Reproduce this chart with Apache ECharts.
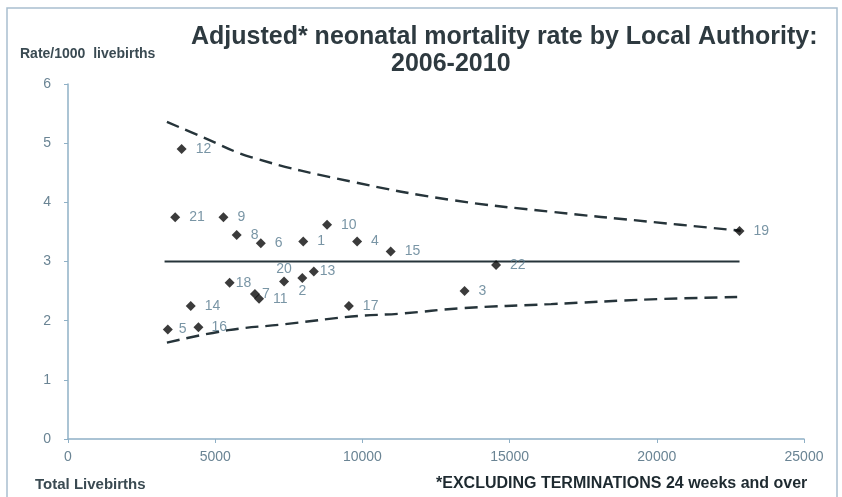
<!DOCTYPE html>
<html>
<head>
<meta charset="utf-8">
<script src="https://cdn.jsdelivr.net/npm/echarts@6/dist/echarts.min.js"></script>
<style>
html,body{margin:0;padding:0;background:#fff;}
#chart{width:842px;height:497px;}
</style>
</head>
<body>
<div id="chart"></div>
<script>
// ---- data ----
const authorityIds = [1,2,3,4,5,6,7,8,9,10,11,12,13,14,15,16,17,18,19,20,21,22];
const totalLivebirths = [7990,7960,13470,9820,3390,6550,6350,5730,5280,8800,6490,3860,8350,4170,10960,4430,9540,5490,22810,7340,3640,14540];
const adjustedRate = [3.34,2.72,2.50,3.34,1.85,3.31,2.45,3.45,3.75,3.62,2.37,4.90,2.83,2.25,3.17,1.89,2.25,2.64,3.515,2.66,3.75,2.94];

const meanX = [3280, 22810];
const meanY = [3, 3];

const upperX = [3360, 4540, 6240, 9630, 13020, 16410, 19800, 22850];
const upperY = [5.36, 5.11, 4.76, 4.35, 4.04, 3.84, 3.67, 3.52];

const lowerX = [3360, 5450, 7370, 9630, 11320, 13360, 16410, 19800, 22730];
const lowerY = [1.63, 1.84, 1.94, 2.07, 2.12, 2.21, 2.28, 2.36, 2.40];

const xTicks = [0, 5000, 10000, 15000, 20000, 25000];
const yTicks = [0, 1, 2, 3, 4, 5, 6];

// label placement (styling only)
const labelPlacement = {
  20: {position: 'top', distance: 0, offset: [-3, 3]},
  2: {position: 'bottom', distance: 1, offset: [0, -2]},
  7: {position: 'right', distance: 2, offset: [-7, -8]},
  18: {position: 'right', distance: 1, offset: [0, 0]},
  13: {position: 'right', distance: 1, offset: [0, 0]},
  5: {position: 'right', distance: 6, offset: [0, 0]},
  16: {position: 'right', distance: 8, offset: [0, 0]}
};

const labelColor = '#587a8e';
const pts = authorityIds.map((id, i) => {
  const p = labelPlacement[id];
  const d = {value: [totalLivebirths[i], adjustedRate[i]], name: String(id)};
  if (p) d.label = {position: p.position, distance: p.distance, offset: p.offset};
  return d;
});

const chart = echarts.init(document.getElementById('chart'), null, {renderer: 'canvas'});
const option = {
  backgroundColor: '#fff',
  animation: false,
  title: [
    {text: 'Adjusted* neonatal mortality rate by Local Authority:', left: 186, top: 20,
     textStyle: {fontFamily: 'Liberation Sans, Arial, sans-serif', fontWeight: 'bold', fontSize: 25, color: '#2e3a40'}},
    {text: '2006-2010', left: 386, top: 47,
     textStyle: {fontFamily: 'Liberation Sans, Arial, sans-serif', fontWeight: 'bold', fontSize: 25, color: '#2e3a40'}}
  ],
  graphic: [
    {type: 'rect', shape: {x: 7, y: 8, width: 830, height: 495}, style: {fill: 'none', stroke: '#a9bfcf', lineWidth: 1.5}, z: -1},
    {type: 'text', left: 20, top: 47, style: {text: 'Rate/1000  livebirths', font: 'bold 14px "Liberation Sans", Arial, sans-serif', fill: '#3a4a52'}},
    {type: 'text', left: 35, top: 477, style: {text: 'Total Livebirths', font: 'bold 15px "Liberation Sans Narrow", "Liberation Sans", Arial, sans-serif', fill: '#3a4a52'}},
    {type: 'text', left: 436, top: 476, style: {text: '*EXCLUDING TERMINATIONS 24 weeks and over', font: 'bold 16px "Liberation Sans Narrow", "Arial Narrow", sans-serif', fill: '#1e2a30'}}
  ],
  grid: {left: 68, right: 38, top: 84, bottom: 58, containLabel: false},
  xAxis: {
    type: 'value', min: xTicks[0], max: xTicks[xTicks.length - 1], interval: 5000,
    axisLine: {show: true, lineStyle: {color: '#8fb0c6', width: 1.5}},
    axisTick: {show: true, length: 4, lineStyle: {color: '#8fb0c6'}},
    axisLabel: {color: '#6a8494', fontSize: 14, margin: 11, formatter: v => String(v),
      fontFamily: 'Liberation Sans Narrow, Liberation Sans, Arial, sans-serif'},
    splitLine: {show: false}
  },
  yAxis: {
    type: 'value', min: yTicks[0], max: yTicks[yTicks.length - 1], interval: 1,
    axisLine: {show: true, lineStyle: {color: '#8fb0c6', width: 1.5}},
    axisTick: {show: true, length: 4, lineStyle: {color: '#8fb0c6'}},
    axisLabel: {color: '#6a8494', fontSize: 14, margin: 17, fontFamily: 'Liberation Sans, Arial, sans-serif'},
    splitLine: {show: false}
  },
  series: [
    {
      type: 'line', data: upperX.map((x, i) => [x, upperY[i]]), smooth: 0.4, showSymbol: false,
      lineStyle: {color: '#26343a', width: 2.4, type: [13, 7]}, z: 2, silent: true
    },
    {
      type: 'line', data: lowerX.map((x, i) => [x, lowerY[i]]), smooth: 0.4, showSymbol: false,
      lineStyle: {color: '#26343a', width: 2.4, type: [13, 7]}, z: 2, silent: true
    },
    {
      type: 'line', data: meanX.map((x, i) => [x, meanY[i]]), showSymbol: false,
      lineStyle: {color: '#26343a', width: 2}, z: 2, silent: true
    },
    {
      type: 'scatter', data: pts, symbol: 'diamond', symbolSize: 10,
      itemStyle: {color: '#0a0a0a'}, z: 5,
      label: {show: true, position: 'right', distance: 9, formatter: '{b}',
        color: labelColor, fontSize: 14, fontFamily: 'Liberation Sans, Arial, sans-serif'},
      labelLayout: {hideOverlap: false}
    }
  ]
};
chart.setOption(option);
</script>
</body>
</html>
